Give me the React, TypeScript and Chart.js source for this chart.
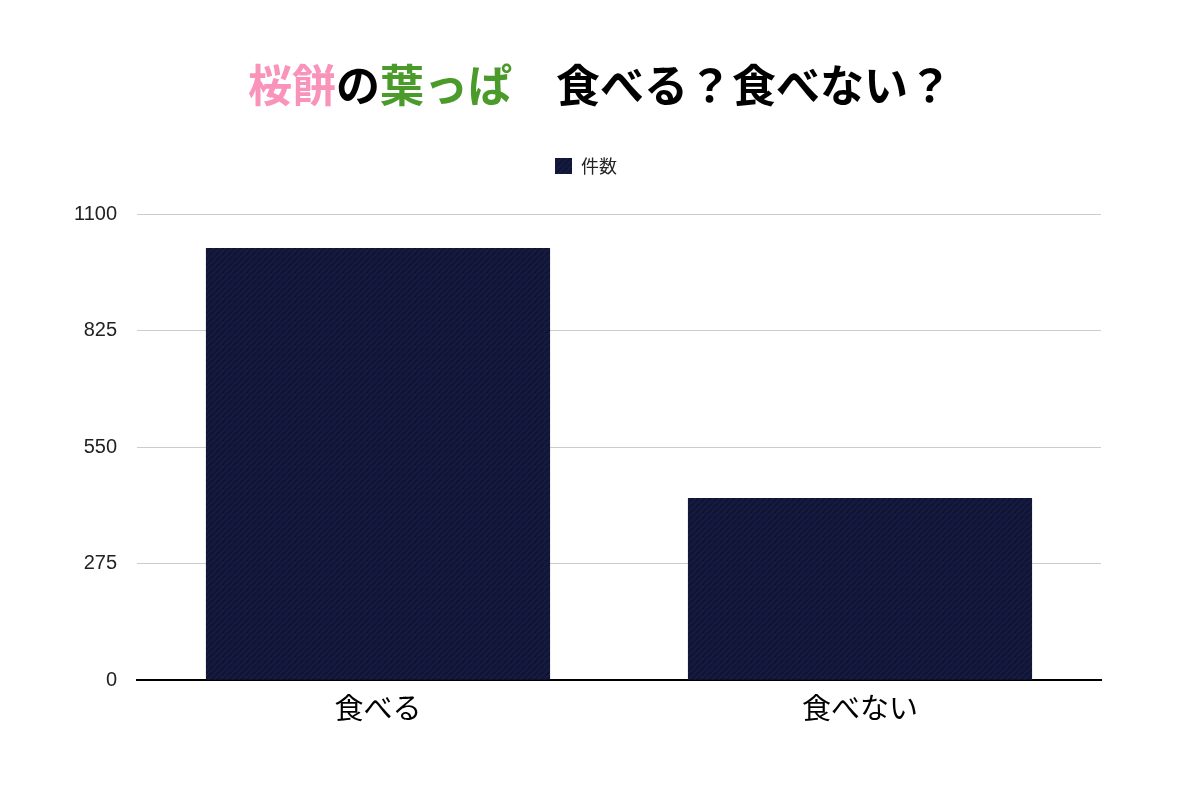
import React, { useEffect, useRef } from "react";
import { Chart, registerables } from "chart.js";

Chart.register(...registerables);

const categories = ["食べる", "食べない"];
const seriesLabel = "件数";
const counts = [1020, 430];
const yTicks = [0, 275, 550, 825, 1100];

function makeTwill(): CanvasPattern | string {
  const c = document.createElement("canvas");
  c.width = 6;
  c.height = 6;
  const g = c.getContext("2d");
  if (!g) return "#13183a";
  g.fillStyle = "#12173a";
  g.fillRect(0, 0, 6, 6);
  g.strokeStyle = "#1a2049";
  g.lineWidth = 1;
  g.beginPath();
  g.moveTo(0, 6);
  g.lineTo(6, 0);
  g.stroke();
  g.strokeStyle = "#0e112c";
  g.beginPath();
  g.moveTo(-3, 6);
  g.lineTo(3, 0);
  g.stroke();
  const p = g.createPattern(c, "repeat");
  return p || "#13183a";
}

export default function App() {
  const ref = useRef<HTMLCanvasElement | null>(null);

  useEffect(() => {
    document.body.style.margin = "0";
    if (!ref.current) return;
    const fill = makeTwill();
    const legendGap = {
      id: "legendGap",
      beforeInit(chart: any) {
        if (!chart.legend) return;
        const orig = chart.legend.fit;
        chart.legend.fit = function () {
          orig.bind(chart.legend)();
          this.height += 29;
        };
      },
    };
    const chart = new Chart(ref.current, {
      type: "bar",
      data: {
        labels: categories,
        datasets: [
          {
            label: seriesLabel,
            data: counts,
            backgroundColor: fill as any,
            borderWidth: 0,
            categoryPercentage: 1,
            barPercentage: 0.714,
          },
        ],
      },
      options: {
        animation: false,
        responsive: false,
        layout: { padding: { top: 147, left: 71, right: 99, bottom: 53 } },
        plugins: {
          legend: {
            display: true,
            position: "top",
            labels: {
              boxWidth: 17,
              boxHeight: 16,
              padding: 10,
              color: "#222",
              font: { family: "'Noto Sans CJK JP', sans-serif", size: 18 },
            },
          },
          tooltip: { enabled: false },
        },
        scales: {
          x: {
            grid: { display: false, drawTicks: false },
            border: { display: true, color: "#000", width: 2 },
            ticks: {
              color: "#000",
              padding: 10,
              font: { family: "'Noto Sans CJK JP', sans-serif", size: 29 },
            },
          },
          y: {
            min: 0,
            max: 1100,
            afterBuildTicks(scale: any) {
              scale.ticks = yTicks.map((v) => ({ value: v }));
            },
            afterFit(scale: any) {
              scale.width = 66;
            },
            grid: { color: "#cccccc", lineWidth: 1, drawTicks: false },
            border: { display: false },
            ticks: {
              color: "#222",
              padding: 20,
              font: { family: "'Liberation Sans', Arial, sans-serif", size: 20 },
              callback: (v: any) => String(v),
            },
          },
        },
      },
      plugins: [legendGap],
    });
    return () => chart.destroy();
  }, []);

  return (
    <div style={{ position: "relative", width: 1200, height: 788, background: "#fff", overflow: "hidden" }}>
      <canvas ref={ref} width={1200} height={788} style={{ position: "absolute", left: 0, top: 0 }} />
      <div
        style={{
          position: "absolute",
          left: 0,
          top: 56,
          width: 1200,
          textAlign: "center",
          fontFamily: "'Noto Sans CJK JP', sans-serif",
          fontWeight: 700,
          fontSize: 44,
          lineHeight: "54px",
          color: "#000",
          whiteSpace: "pre",
        }}
      >
        <span style={{ color: "#f993b9" }}>桜餅</span>
        <span>の</span>
        <span style={{ color: "#4b9b2b" }}>葉っぱ</span>
        <span>　食べる？食べない？</span>
      </div>
    </div>
  );
}
